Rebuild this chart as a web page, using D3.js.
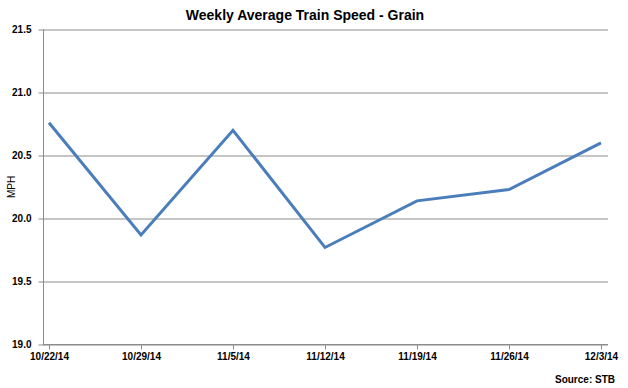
<!DOCTYPE html>
<html lang="en">
  <head>
    <meta charset="utf-8" />
    <title>Weekly Average Train Speed - Grain</title>
    <script src="https://d3js.org/d3.v7.min.js"></script>
    <style type="text/css">
      body { margin: 0; background: #fff; }
      text { font-family: 'Liberation Sans Narrow', 'Liberation Sans', sans-serif; fill: #000; }
    </style>
  </head>
  <body>
    <script type="text/javascript">
      const w = 628;
      const h = 388;

      const weeks = ['10/22/14', '10/29/14', '11/5/14', '11/12/14', '11/19/14', '11/26/14', '12/3/14'];
      const speeds = [20.76, 19.87, 20.70, 19.77, 20.14, 20.23, 20.60];
      const yTicks = [19.0, 19.5, 20.0, 20.5, 21.0, 21.5];

      const margin = { left: 43, right: 20, top: 30, bottom: 43 };

      const xScale = d3
        .scalePoint()
        .domain(weeks)
        .range([49, 601]);

      const yScale = d3
        .scaleLinear()
        .domain([19, 21.5])
        .range([h - margin.bottom - 0.5, margin.top - 0.5]);

      const svg = d3.select('body').append('svg').attr('width', w).attr('height', h);

      //Title
      svg
        .append('text')
        .attr('x', 305)
        .attr('y', 20)
        .attr('text-anchor', 'middle')
        .attr('font-size', '14px')
        .attr('font-weight', 'bold')
        .text('Weekly Average Train Speed - Grain');

      //Gridlines
      svg
        .append('g')
        .attr('transform', `translate(${margin.left},0)`)
        .call(d3.axisLeft(yScale).tickValues(yTicks).tickSize(-(w - margin.left - margin.right)).tickFormat(''))
        .call((g) => g.select('.domain').remove())
        .call((g) => g.selectAll('line').attr('stroke', '#8c8c8c'));

      //Y axis
      svg
        .append('g')
        .attr('transform', `translate(${margin.left + 0.5},0)`)
        .call(d3.axisLeft(yScale).tickValues(yTicks).tickSize(5).tickPadding(7).tickFormat(d3.format('.1f')))
        .call((g) => g.select('.domain').attr('stroke', '#8c8c8c').attr('d', `M0,${yScale(21.5)}V${yScale(19)}`))
        .call((g) => g.selectAll('line').attr('stroke', '#8c8c8c'))
        .call((g) =>
          g.selectAll('text').attr('font-size', '10px').attr('font-weight', 'bold').attr('font-family', "'Liberation Sans Narrow', sans-serif")
        );

      //X axis
      svg
        .append('g')
        .attr('transform', `translate(0,${yScale(19)})`)
        .call(d3.axisBottom(xScale).tickSize(5).tickPadding(3))
        .call((g) => g.select('.domain').attr('stroke', '#8c8c8c').attr('d', `M${margin.left},0H${w - margin.right}`))
        .call((g) => g.selectAll('line').attr('stroke', '#8c8c8c'))
        .call((g) =>
          g.selectAll('text').attr('font-size', '10px').attr('font-weight', 'bold').attr('font-family', "'Liberation Sans Narrow', sans-serif")
        );

      //Y axis title
      svg
        .append('text')
        .attr('transform', 'translate(15,187) rotate(-90)')
        .attr('text-anchor', 'middle')
        .attr('font-size', '10px')
        .text('MPH');

      //Line
      const line = d3
        .line()
        .x((d, i) => xScale(weeks[i]))
        .y((d) => yScale(d));

      svg
        .append('path')
        .datum(speeds)
        .attr('d', line)
        .attr('fill', 'none')
        .attr('stroke', '#4a7ebb')
        .attr('stroke-width', 3)
        .attr('stroke-linejoin', 'miter');

      //Source
      svg
        .append('text')
        .attr('x', 615)
        .attr('y', 383)
        .attr('text-anchor', 'end')
        .attr('font-size', '10px')
        .attr('font-weight', 'bold')
        .text('Source:  STB');
    </script>
  </body>
</html>
